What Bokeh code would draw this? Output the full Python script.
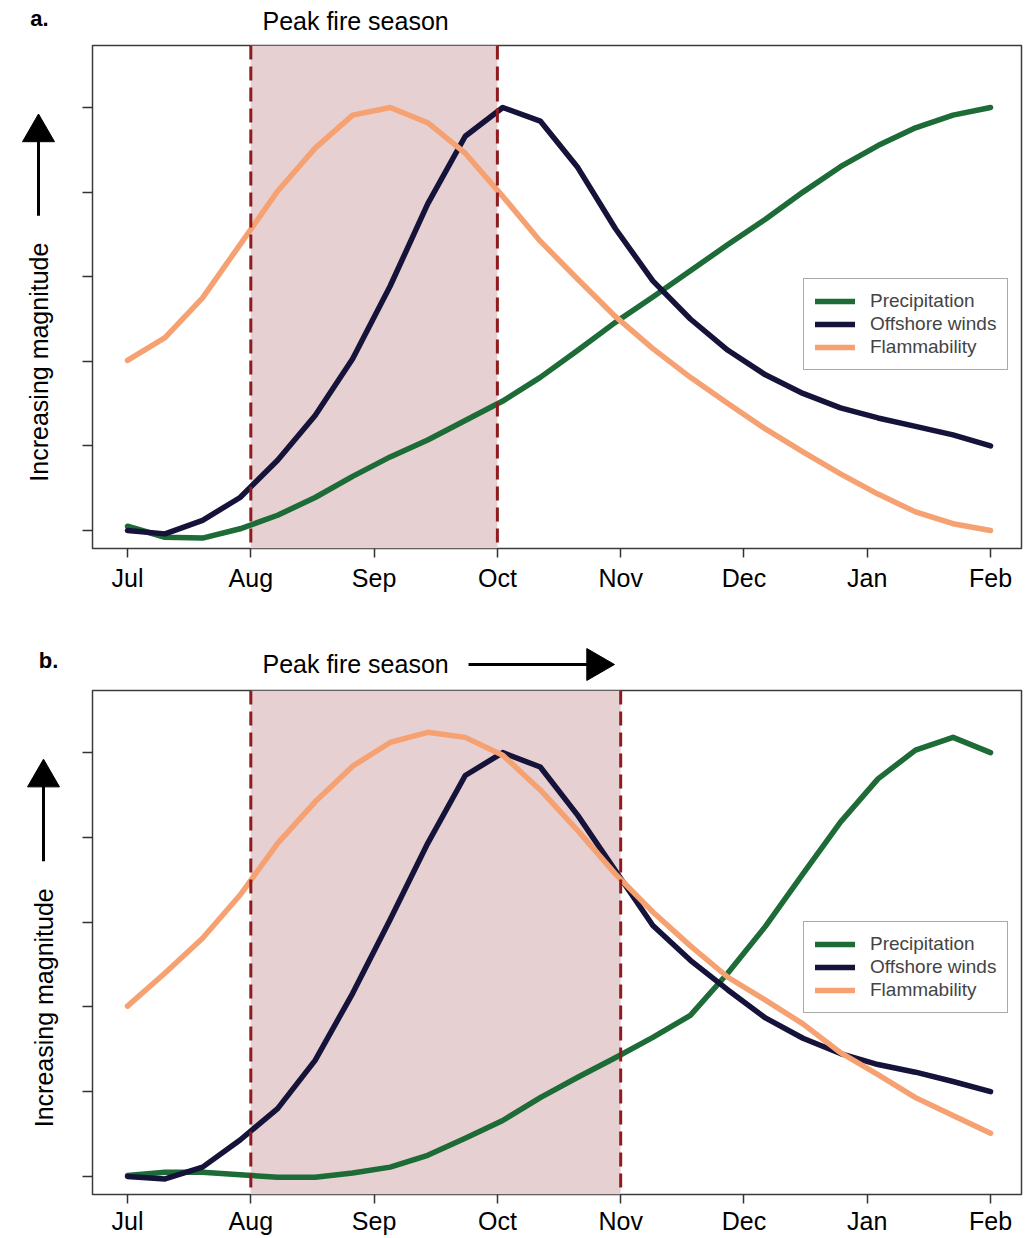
import numpy as np
from bokeh.plotting import figure
from bokeh.layouts import column, row
from bokeh.models import (BoxAnnotation, Span, FixedTicker, Legend, LegendItem, Range1d)
from bokeh.core.properties import value
from bokeh.embed import file_html
from bokeh.resources import INLINE

# ---------------- data ----------------
month_labels = ["Jul", "Aug", "Sep", "Oct", "Nov", "Dec", "Jan", "Feb"]
month_pos = [0, 1, 2, 3, 4, 5, 6, 7]
y_ticks = [0, 1, 2, 3, 4, 5]
t = np.linspace(0, 7, 24)  # sampling grid, Jul -> Feb

a_precip = [0.05, -0.08, -0.09, 0.02, 0.18, 0.39, 0.64, 0.87, 1.07, 1.30, 1.53, 1.81,
            2.13, 2.46, 2.76, 3.07, 3.38, 3.68, 4.00, 4.30, 4.55, 4.76, 4.91, 5.00]
a_winds = [0.00, -0.04, 0.12, 0.39, 0.83, 1.36, 2.03, 2.89, 3.86, 4.66, 5.00, 4.84,
           4.29, 3.57, 2.95, 2.50, 2.13, 1.84, 1.62, 1.45, 1.33, 1.23, 1.13, 1.00]
a_flam = [2.01, 2.28, 2.75, 3.38, 4.01, 4.52, 4.91, 5.00, 4.82, 4.46, 3.95, 3.42,
          2.97, 2.53, 2.15, 1.81, 1.50, 1.20, 0.93, 0.67, 0.43, 0.22, 0.08, 0.00]

b_precip = [0.01, 0.05, 0.05, 0.02, -0.01, -0.01, 0.04, 0.11, 0.25, 0.45, 0.66, 0.93,
            1.17, 1.40, 1.64, 1.90, 2.40, 2.95, 3.57, 4.18, 4.69, 5.03, 5.18, 5.00]
b_winds = [0.00, -0.03, 0.11, 0.43, 0.80, 1.37, 2.16, 3.03, 3.93, 4.73, 5.00, 4.83,
           4.26, 3.61, 2.96, 2.55, 2.20, 1.87, 1.63, 1.45, 1.32, 1.23, 1.12, 1.00]
b_flam = [2.01, 2.40, 2.81, 3.32, 3.93, 4.42, 4.84, 5.12, 5.24, 5.18, 4.97, 4.56,
          4.08, 3.57, 3.12, 2.72, 2.35, 2.08, 1.80, 1.46, 1.20, 0.93, 0.72, 0.51]

season_a = (1, 3)   # Aug -> Oct
season_b = (1, 4)   # Aug -> Nov

series_names = ["Precipitation", "Offshore winds", "Flammability"]
series_colors = ["#1d6b36", "#16133a", "#f6a172"]

FONT = "Liberation Sans"
TOTAL_W = 1036
LEFT_W = 60
X_RANGE = (-0.284, 7.251)
Y_RANGE = (-0.213, 5.733)
FRAME_LEFT = 92
FRAME_W = 929
PX_PER_MONTH = FRAME_W / (X_RANGE[1] - X_RANGE[0])


def bare_fig(width, height, xr, yr, **kw):
    f = figure(width=width, height=height, x_range=xr, y_range=yr,
               output_backend="svg", toolbar_location=None,
               x_axis_location=None, y_axis_location=None,
               min_border_left=0, min_border_right=0, **kw)
    f.xgrid.visible = False
    f.ygrid.visible = False
    f.outline_line_color = None
    return f


def make_panel(tag, tag_x, tag_y, title_y, data, season, with_arrow,
               main_h, border_bottom, standoff, legend_y, ylab_x):
    # ---- top strip (panel tag, "Peak fire season") ----
    strip_h = 43
    sx0 = X_RANGE[0] - FRAME_LEFT / PX_PER_MONTH
    sx1 = X_RANGE[0] + (TOTAL_W - FRAME_LEFT) / PX_PER_MONTH
    top = bare_fig(TOTAL_W, strip_h, Range1d(sx0, sx1), Range1d(0, strip_h),
                   min_border_top=0, min_border_bottom=0)
    top.text(x=[tag_x], y=[tag_y], text=[tag], text_font=value(FONT),
             text_font_size="22px", text_font_style="bold", text_align="center",
             text_baseline="middle", text_color="black")
    top.text(x=[1.85], y=[title_y], text=["Peak fire season"], text_font=value(FONT),
             text_font_size="25px", text_align="center", text_baseline="middle",
             text_color="black")
    if with_arrow:
        top.segment(x0=[2.766], y0=[title_y - 1], x1=[3.80], y1=[title_y - 1],
                    line_width=3, line_color="black")
        top.scatter(x=[3.80], y=[title_y - 1], marker="triangle", size=32,
                    angle=-np.pi / 2, fill_color="black", line_color="black")

    # ---- main plot ----
    yr = Range1d(*Y_RANGE)
    p = figure(width=TOTAL_W - LEFT_W, height=main_h,
               x_range=Range1d(*X_RANGE), y_range=yr,
               output_backend="svg", toolbar_location=None,
               min_border_left=FRAME_LEFT - LEFT_W, min_border_right=15,
               min_border_top=2, min_border_bottom=border_bottom)
    p.xgrid.visible = False
    p.ygrid.visible = False
    p.outline_line_color = "#3c3c3c"
    p.outline_line_width = 1.5
    p.outline_line_alpha = 1

    p.xaxis.ticker = FixedTicker(ticks=month_pos)
    p.xaxis.major_label_overrides = {m: lab for m, lab in zip(month_pos, month_labels)}
    p.xaxis.axis_line_color = None
    p.xaxis.major_tick_out = 9
    p.xaxis.major_tick_in = 0
    p.xaxis.minor_tick_line_color = None
    p.xaxis.major_tick_line_color = "#333333"
    p.xaxis.major_tick_line_width = 1.5
    p.xaxis.major_label_text_font = FONT
    p.xaxis.major_label_text_font_size = "25px"
    p.xaxis.major_label_text_color = "black"
    p.xaxis.major_label_standoff = standoff

    p.yaxis.ticker = FixedTicker(ticks=y_ticks)
    p.yaxis.major_label_overrides = {v: "" for v in y_ticks}
    p.yaxis.axis_line_color = None
    p.yaxis.major_tick_out = 10
    p.yaxis.major_tick_in = 0
    p.yaxis.minor_tick_line_color = None
    p.yaxis.major_tick_line_color = "#333333"
    p.yaxis.major_tick_line_width = 1.5
    p.yaxis.major_label_standoff = 0

    p.add_layout(BoxAnnotation(left=season[0], right=season[1], fill_color="#e6d0d1",
                               fill_alpha=1, line_color=None, level="underlay"))

    renderers = []
    for vals, col in zip(data, series_colors):
        r = p.line(t, vals, line_color=col, line_width=5.5, line_cap="round",
                   line_join="round")
        renderers.append(r)

    for s in season:
        p.add_layout(Span(location=s, dimension="height", line_color="#8e1b1f",
                          line_width=3, line_dash="14 7"))

    legend = Legend(items=[LegendItem(label=n, renderers=[r])
                           for n, r in zip(series_names, renderers)],
                    location=(711, legend_y))
    legend.border_line_color = "#555555"
    legend.border_line_width = 1.5
    legend.background_fill_alpha = 1
    legend.label_text_font = FONT
    legend.label_text_font_size = "19px"
    legend.glyph_width = 40
    legend.glyph_height = 20
    legend.label_height = 20
    legend.spacing = 1
    legend.padding = 11
    legend.label_standoff = 15
    legend.margin = 0
    p.add_layout(legend)

    # ---- left strip (y label + arrow), shares the y range ----
    left = bare_fig(LEFT_W, main_h, Range1d(0, LEFT_W), yr,
                    min_border_top=2, min_border_bottom=border_bottom)
    left.text(x=[ylab_x], y=[1.99], text=["Increasing magnitude"], text_font=value(FONT),
              text_font_size="25px", text_align="center", text_baseline="middle",
              angle=np.pi / 2, text_color="black")
    left.segment(x0=[ylab_x], y0=[3.72], x1=[ylab_x], y1=[4.70],
                 line_width=3, line_color="black")
    left.scatter(x=[ylab_x], y=[4.705], marker="triangle", size=32,
                 fill_color="black", line_color="black")

    return column(top, row(left, p, spacing=0), spacing=0)


panel_a = make_panel("a.", -0.714, 25, 23, [a_precip, a_winds, a_flam], season_a, False,
                     602, 97, 6, 178, 38)
panel_b = make_panel("b.", -0.64, 28, 25, [b_precip, b_winds, b_flam], season_b, True,
                     550, 44, 3, 181, 43)

layout = column(panel_a, panel_b, spacing=0)
open("out.html", "w").write(file_html(layout, INLINE, title="Fire season"))
